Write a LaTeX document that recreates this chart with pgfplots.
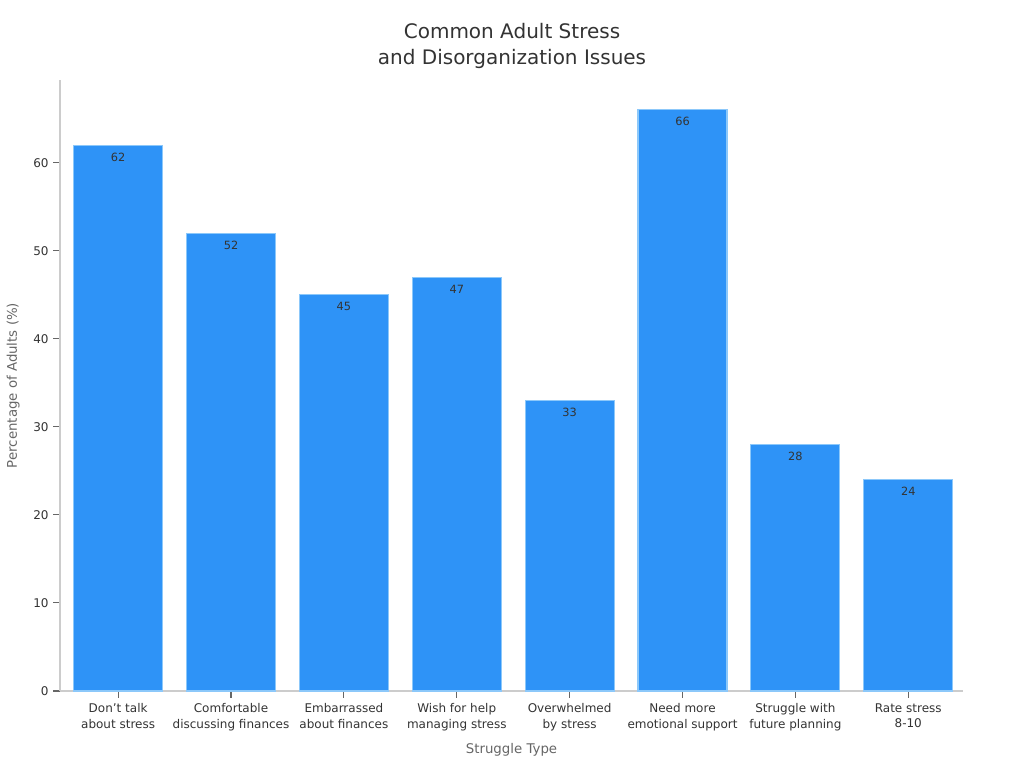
\documentclass[border=0pt]{standalone}
\usepackage{fontspec}
\setmainfont{DejaVu Sans}
\usepackage{pgfplots}
\pgfplotsset{compat=1.18}
\definecolor{barblue}{HTML}{2E93F7}
\definecolor{baredge}{HTML}{8CC8FA}
\definecolor{axgray}{HTML}{CCCCCC}
\definecolor{txt}{HTML}{333333}
\definecolor{lbl}{HTML}{666666}
\begin{document}
\begin{tikzpicture}[x=1pt,y=1pt]
\path[use as bounding box] (0,0) rectangle (768,576);
\begin{axis}[
  at={(45pt,57.75pt)}, anchor=south west,
  scale only axis, width=677.25pt, height=458.25pt,
  xmin=-0.515, xmax=7.485, ymin=0, ymax=69.4,
  axis x line*=bottom, axis y line*=left,
  axis line style={axgray, line width=0.8pt},
  xtick=data,
  xticklabels={{Don’t talk\\about stress},{Comfortable\\discussing finances},{Embarrassed\\about finances},{Wish for help\\managing stress},{Overwhelmed\\by stress},{Need more\\emotional support},{Struggle with\\future planning},{Rate stress\\8-10}},
  xticklabel style={align=center, font=\fontsize{9}{11.5}\selectfont, text=txt, yshift=-1pt},
  ytick={0,10,20,30,40,50,60},
  yticklabel style={font=\fontsize{9}{11}\selectfont, text=txt},
  /pgf/number format/assume math mode=true,
  tick style={color=lbl, line width=0.8pt},
  major tick length=5pt,
  tick align=outside,
  ylabel={Percentage of Adults (\%)},
  ylabel style={font=\fontsize{10}{12}\selectfont, text=lbl, at={(axis description cs:-0.0517,0.5)}, anchor=center},
  xlabel={Struggle Type},
  xlabel style={font=\fontsize{10}{12}\selectfont, text=lbl, yshift=-3pt},
  ybar, bar width=66.75pt,
  nodes near coords,
  every node near coord/.append style={font=\fontsize{8.5}{10}\selectfont, text=txt, anchor=north, yshift=-2pt},
  clip=false,
]
\addplot[fill=barblue, draw=baredge, line width=0.8pt] coordinates {
(0,62) (1,52) (2,45) (3,47) (4,33) (5,66) (6,28) (7,24)};
\end{axis}
\node[align=center, font=\fontsize{15}{19.5}\selectfont, text=txt] at (384,541.5) {Common Adult Stress\\and Disorganization Issues};
\end{tikzpicture}
\end{document}
